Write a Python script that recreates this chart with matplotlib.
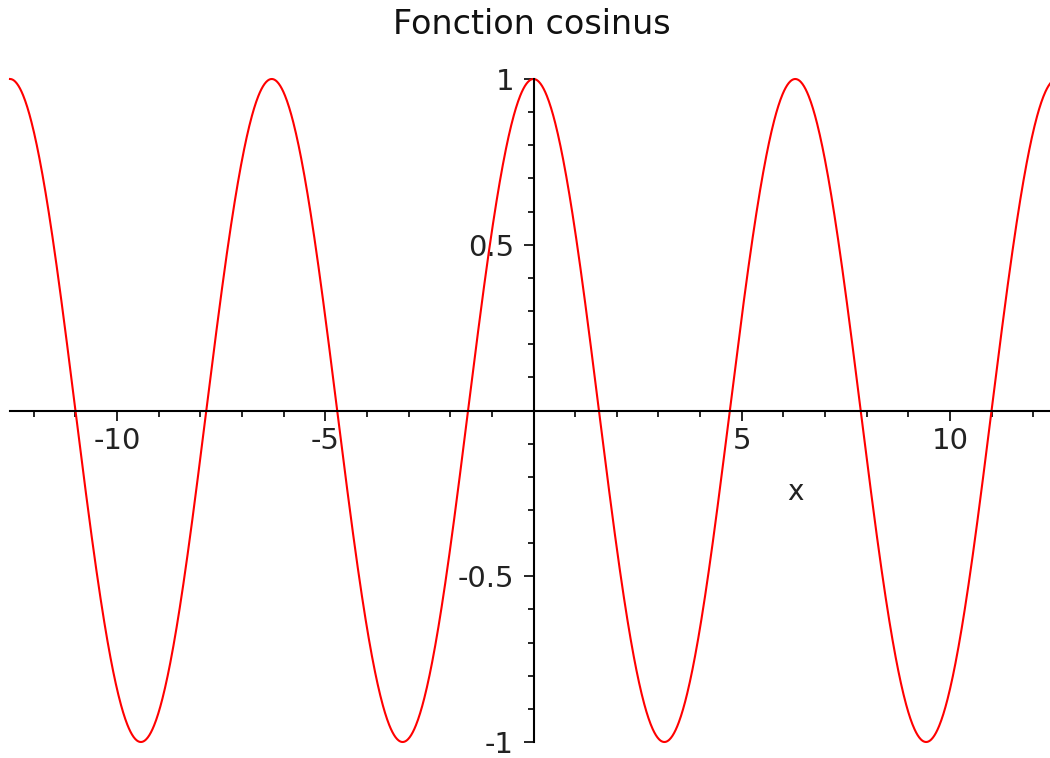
import matplotlib
matplotlib.use('Agg')
import matplotlib.pyplot as plt
import numpy as np
from matplotlib.ticker import FixedLocator

plt.rcParams['font.family'] = ['DejaVu Sans']
plt.rcParams['axes.unicode_minus'] = False

# Plot domain and labelled ticks
X_MIN, X_MAX = -4 * np.pi, 4 * np.pi
X_MAJOR = [-10, -5, 5, 10]
X_MAJOR_LABELS = ["-10", "-5", "5", "10"]
X_MINOR = list(range(-12, 13))
Y_MAJOR = [-1, -0.5, 0.5, 1]
Y_MAJOR_LABELS = ["-1", "-0.5", "0.5", "1"]
Y_MINOR = [k / 10 for k in range(-10, 11)]

x = np.linspace(X_MIN, X_MAX, 2000)
y = np.cos(x)

W, H = 1050, 758
fig = plt.figure(figsize=(W / 100, H / 100), dpi=100)
# axes spans a bit past the right edge so the curve runs off the frame
ax = fig.add_axes([10 / W, 16 / H, 1047 / W, 663 / H])
ax.plot(x, y, color='#ff0000', lw=1.5, clip_on=False)
ax.set_xlim(X_MIN, X_MAX)
ax.set_ylim(-1, 1)

for side in ('top', 'right'):
    ax.spines[side].set_visible(False)
for side in ('left', 'bottom'):
    ax.spines[side].set_position('zero')
    ax.spines[side].set_linewidth(1.5)
    ax.spines[side].set_color('black')

ax.xaxis.set_major_locator(FixedLocator(X_MAJOR))
ax.xaxis.set_minor_locator(FixedLocator(X_MINOR))
ax.set_xticklabels(X_MAJOR_LABELS)
ax.yaxis.set_major_locator(FixedLocator(Y_MAJOR))
ax.yaxis.set_minor_locator(FixedLocator(Y_MINOR))
ax.set_yticklabels(Y_MAJOR_LABELS)

ax.tick_params(which='major', direction='out', length=7, width=1.2,
               labelsize=21, color='black', labelcolor='#222222')
ax.tick_params(which='minor', direction='out', length=4, width=1.2, color='black')
ax.tick_params(axis='x', which='major', pad=5)
ax.tick_params(axis='y', which='major', pad=7)

ax.set_xlabel("x", fontsize=20, color='#222222')
ax.xaxis.set_label_coords((795 - 10) / 1047, (742 - 478) / 663)

fig.text(532 / W, 1 - 25 / H, "Fonction cosinus", fontsize=24,
         ha='center', va='center', color='#111111')

fig.savefig("out.png", dpi=100)
